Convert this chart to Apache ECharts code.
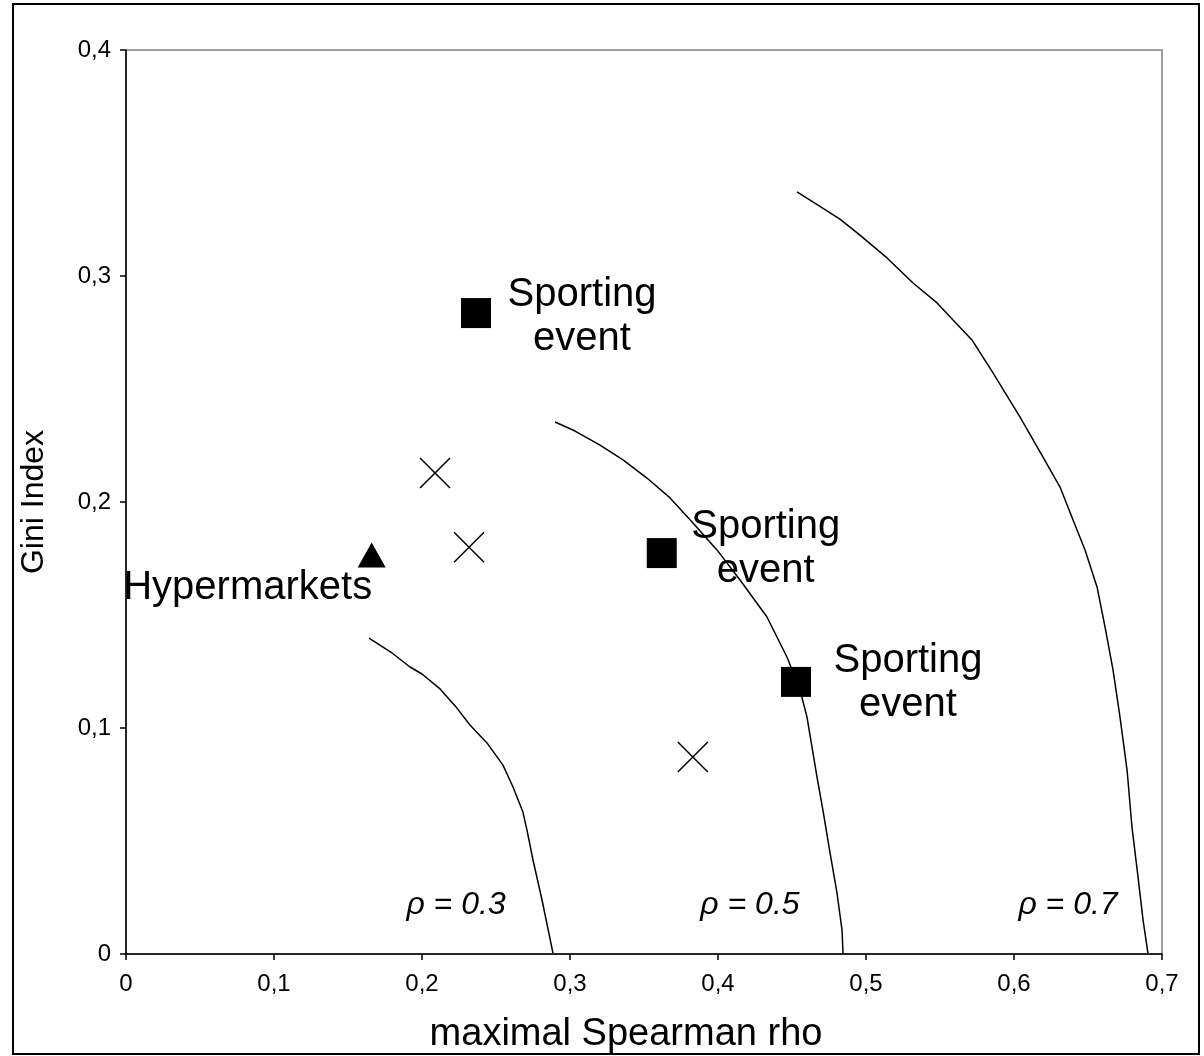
<!DOCTYPE html>
<html><head><meta charset="utf-8">
<script src="https://cdn.jsdelivr.net/npm/echarts@6/dist/echarts.min.js"></script>
<style>html,body{margin:0;padding:0;background:#fff}#c{width:1204px;height:1056px}</style>
</head><body><div id="c"></div>
<script>
// ---- data ----
const xTickLabels = ['0','0,1','0,2','0,3','0,4','0,5','0,6','0,7'];
const yTickLabels = ['0','0,1','0,2','0,3','0,4'];
const sportingX = [0.2365, 0.362, 0.4527];
const sportingY = [0.2836, 0.1774, 0.1204];
const hyperX = [0.166];
const hyperY = [0.1765];
const crossX = [0.2088, 0.2318, 0.383];
const crossY = [0.2128, 0.180, 0.0872];
const rho03X = [0.1642,0.1797,0.1919,0.2000,0.2122,0.2236,0.2324,0.2439,0.2547,0.2615,0.2682,0.2709,0.2750,0.2811,0.2885];
const rho03Y = [0.1398,0.1332,0.1270,0.1239,0.1173,0.1088,0.1013,0.0934,0.0836,0.0739,0.0628,0.0549,0.0416,0.0239,0.0004];
const rho05X = [0.2899,0.3034,0.3203,0.3358,0.3520,0.3676,0.3831,0.3993,0.4149,0.4331,0.4466,0.4554,0.4601,0.4669,0.4709,0.4757,0.4804,0.4838,0.4845];
const rho05Y = [0.2354,0.2314,0.2252,0.2186,0.2106,0.2018,0.1907,0.1788,0.1655,0.1491,0.1314,0.1168,0.1049,0.0783,0.0637,0.0447,0.0270,0.0106,0.0];
const rho07X = [0.4534,0.4824,0.4959,0.5142,0.5318,0.5480,0.5588,0.5716,0.5858,0.6041,0.6196,0.6311,0.6399,0.6480,0.6561,0.6615,0.6669,0.6716,0.6764,0.6797,0.6838,0.6872,0.6905];
const rho07Y = [0.3372,0.3252,0.3181,0.3080,0.2969,0.2881,0.2805,0.2717,0.2571,0.2376,0.2199,0.2066,0.1920,0.1788,0.1624,0.1447,0.1257,0.1049,0.0814,0.0562,0.0341,0.0150,0.0004];
const rhoLabels = ['ρ = 0.3','ρ = 0.5','ρ = 0.7'];
const rhoLabelX = [0.223, 0.4216, 0.6365];
const rhoLabelY = [0.0217, 0.0217, 0.0217];
const sportingLabel = 'Sporting\nevent';
const hyperLabel = 'Hypermarkets';

// ---- chart ----
const FONT = '"Liberation Sans", Arial, sans-serif';
const zip = (xs, ys) => xs.map((x, i) => [x, ys[i]]);
const sportOffsets = [[106, 4], [104, -4], [112, 1]];
const lineSeries = (xs, ys) => ({
  type: 'line', data: zip(xs, ys), showSymbol: false, symbol: 'none',
  lineStyle: { color: '#000', width: 1.5, opacity: 1 }, silent: true, z: 2
});
const chart = echarts.init(document.getElementById('c'), null, { renderer: 'canvas' });
chart.setOption({
  animation: false,
  backgroundColor: '#fff',
  graphic: [{ type: 'rect', shape: { x: 13, y: 4, width: 1186, height: 1050 },
    style: { fill: 'none', stroke: '#000', lineWidth: 2 }, z: -1 }],
  grid: { left: 126, top: 50, right: 42, bottom: 102, show: true, borderColor: '#808080', borderWidth: 1.5,
    backgroundColor: '#fff', containLabel: false, outerBoundsMode: 'none' },
  xAxis: {
    type: 'value', min: 0, max: 0.7, interval: 0.1,
    name: 'maximal Spearman rho', nameLocation: 'middle', nameGap: 62,
    nameTextStyle: { fontFamily: FONT, fontSize: 38, color: '#000', padding: [0, 36, 0, 0] },
    axisLine: { show: true, onZero: false, lineStyle: { color: '#000', width: 1.5 } },
    axisTick: { show: true, inside: false, length: 6, lineStyle: { color: '#000', width: 1.5 } },
    axisLabel: { fontFamily: FONT, fontSize: 24, color: '#000', margin: 18,
      formatter: v => xTickLabels[Math.round(v * 10)] },
    splitLine: { show: false }
  },
  yAxis: {
    type: 'value', min: 0, max: 0.4, interval: 0.1,
    name: 'Gini Index', nameLocation: 'middle', nameGap: 76,
    nameTextStyle: { fontFamily: FONT, fontSize: 32, color: '#000' },
    axisLine: { show: true, onZero: false, lineStyle: { color: '#000', width: 1.5 } },
    axisTick: { show: true, inside: false, length: 6, lineStyle: { color: '#000', width: 1.5 } },
    axisLabel: { fontFamily: FONT, fontSize: 24, color: '#000', margin: 15,
      formatter: v => yTickLabels[Math.round(v * 10)] },
    splitLine: { show: false }
  },
  series: [
    lineSeries(rho03X, rho03Y),
    lineSeries(rho05X, rho05Y),
    lineSeries(rho07X, rho07Y),
    {
      type: 'scatter', symbol: 'rect', symbolSize: 30, z: 5,
      itemStyle: { color: '#000', opacity: 1 },
      data: zip(sportingX, sportingY).map((p, i) => ({
        value: p,
        label: { show: true, position: 'inside', offset: sportOffsets[i], formatter: sportingLabel,
          fontFamily: FONT, fontSize: 40, lineHeight: 44, color: '#000', align: 'center', verticalAlign: 'middle' }
      }))
    },
    {
      type: 'scatter', symbol: 'triangle', symbolSize: [28, 25], z: 5,
      itemStyle: { color: '#000', opacity: 1 },
      data: zip(hyperX, hyperY).map(p => ({
        value: p,
        label: { show: true, position: 'inside', offset: [-124, 33], formatter: hyperLabel,
          fontFamily: FONT, fontSize: 40, color: '#000', align: 'center', verticalAlign: 'middle' }
      }))
    },
    {
      type: 'scatter', symbol: 'path://M0,0L10,10M10,0L0,10', symbolSize: 30, z: 5,
      itemStyle: { color: 'none', borderColor: '#000', borderWidth: 1.5, opacity: 1 },
      data: zip(crossX, crossY)
    },
    {
      type: 'scatter', symbolSize: 0, z: 6, silent: true,
      itemStyle: { opacity: 1 },
      data: zip(rhoLabelX, rhoLabelY).map((p, i) => ({
        value: p,
        label: { show: true, position: 'inside', formatter: rhoLabels[i],
          fontFamily: FONT, fontSize: 32, fontStyle: 'italic', color: '#000', align: 'center', verticalAlign: 'middle' }
      }))
    }
  ]
});
</script></body></html>
